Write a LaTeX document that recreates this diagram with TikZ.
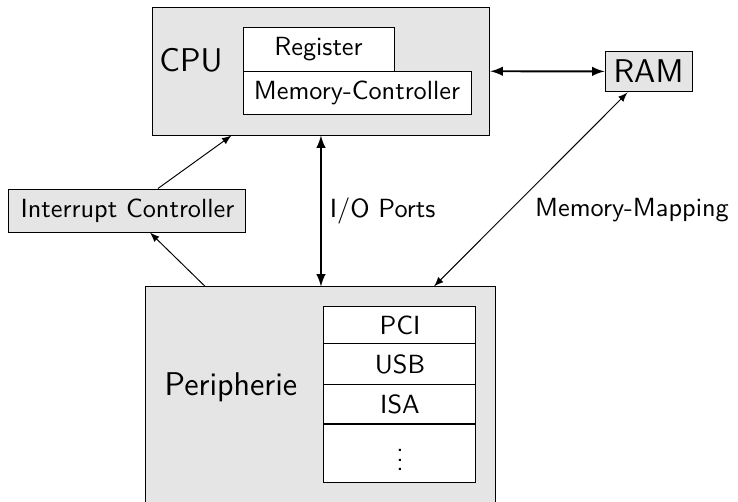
\documentclass[tikz,border=0pt]{standalone}
\usetikzlibrary{arrows}
\renewcommand{\familydefault}{\sfdefault}

\begin{document}
\begin{tikzpicture}[
        font=\fontsize{10.95}{13}\selectfont,
        every node/.style={draw, rectangle, inner sep=0pt},
        unit/.style={fill=gray!20},
        part/.style={fill=white},
        bus/.style={minimum width=2.226cm, fill=white},
        label/.style={draw=none, fill=none, inner sep=3.33pt},
        big/.style={font=\fontsize{13.7}{16}\selectfont},
        link/.style={-latex},
        wide/.style={latex-latex, thick}
        ]
        \useasboundingbox (0,0) rectangle (10.809,-7.352);

        % CPU
        \node[unit, minimum width=4.95cm, minimum height=1.875cm] (CPU) at (4.701,-1.040) {};
        \node[label, big] (CPUtext) at (2.797,-0.879) {CPU};
        \node[part, minimum width=2.212cm, minimum height=0.644cm] (Register) at (4.665,-0.718) {Register};
        \node[part, minimum width=3.339cm, minimum height=0.630cm] (MemCtrl) at (5.229,-1.355) {Memory-Controller};

        % RAM
        \node[unit, big, minimum width=1.274cm, minimum height=0.600cm] (RAM) at (9.498,-1.047) {RAM};

        % Interrupt Controller
        \node[unit, minimum width=3.471cm, minimum height=0.630cm] (IC) at (1.867,-3.083) {Interrupt Controller};

        % Peripherie
        \node[unit, minimum width=5.126cm, minimum height=3.310cm] (Peri) at (4.701,-5.858) {};
        \node[label, big] (Peritext) at (3.383,-5.668) {Peripherie};
        \node[bus, minimum height=0.542cm] (PCI) at (5.858,-4.767) {PCI};
        \node[bus, minimum height=0.600cm] (USB) at (5.858,-5.338) {USB};
        \node[bus, minimum height=0.571cm] (ISA) at (5.858,-5.924) {ISA};
        \node[bus, minimum height=0.849cm] (More) at (5.858,-6.635) {$\vdots$};

        \node[label] (MemMap) at (9.256,-3.076) {Memory-Mapping};

        % connections
        \draw[wide] (CPU) -- (RAM);
        \draw[wide] (CPU) -- node[label, right] (IOtext) {I/O Ports} (Peri);
        \draw[latex-latex] (RAM) -- (Peri);
        \draw[link] (IC) -- (CPU);
        \draw[link] (Peri) -- (IC);
\end{tikzpicture}
\end{document}
